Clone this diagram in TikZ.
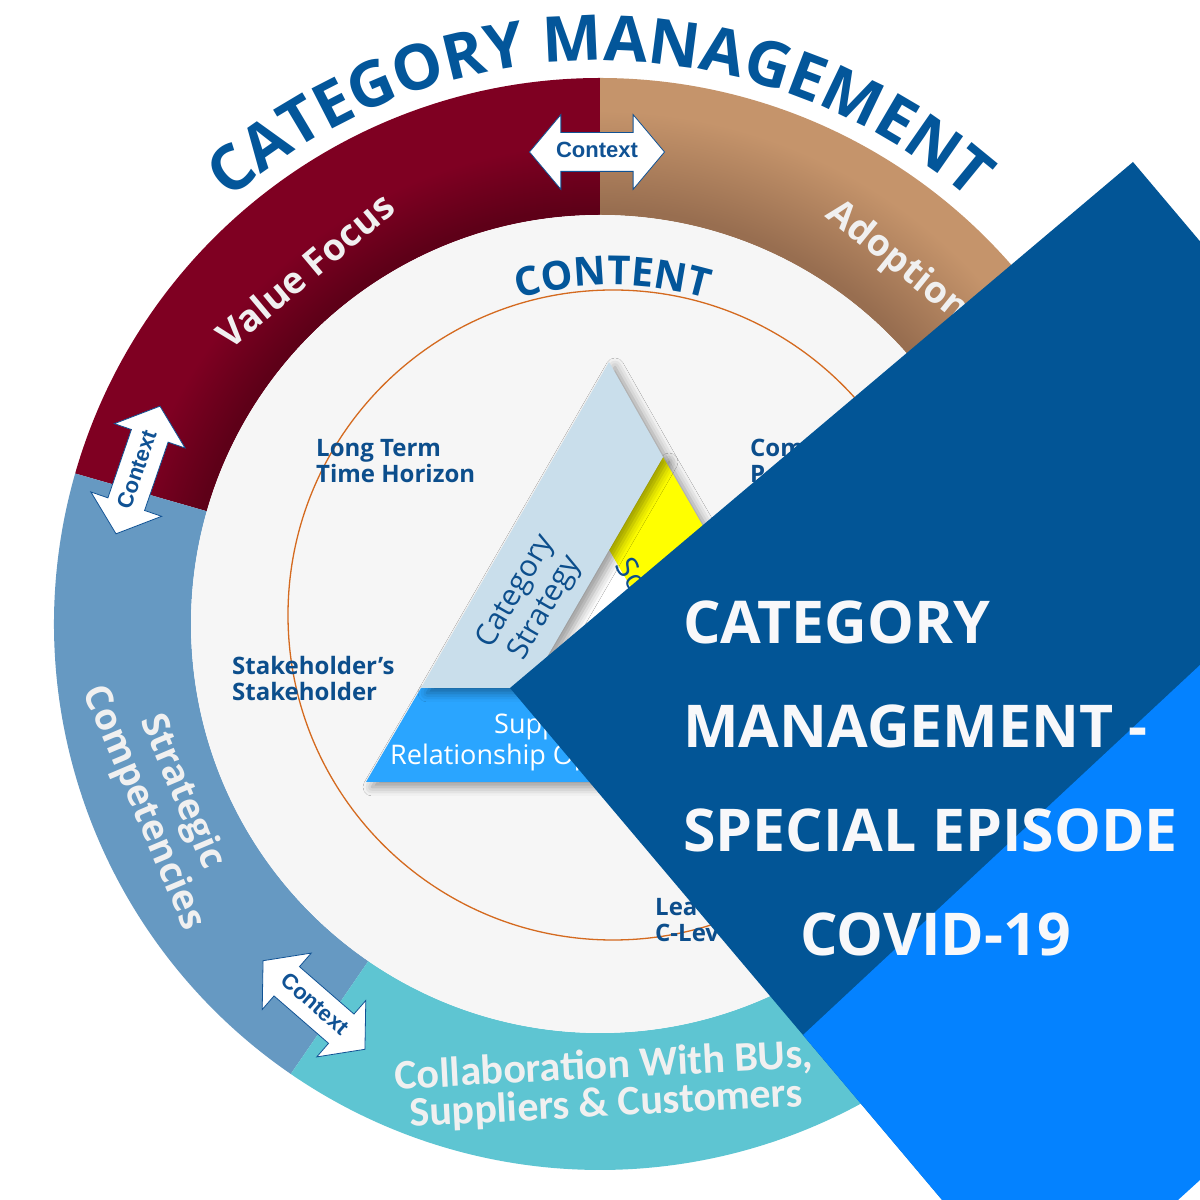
\documentclass[tikz,border=0pt]{standalone}
\usepackage{fontspec}
\setmainfont{Open Sans}
\newfontfamily\ctxfont{Liberation Sans}
\newfontfamily\calfont{Carlito}
\usetikzlibrary{shapes.arrows, decorations.text, shadows.blur}

\definecolor{cmblue}{RGB}{3,86,154}
\definecolor{txtblue}{RGB}{12,78,140}
\definecolor{ctxblue}{RGB}{16,82,148}
\definecolor{valred}{RGB}{127,0,34}
\definecolor{valreddark}{RGB}{94,0,24}
\definecolor{adopt}{RGB}{197,148,107}
\definecolor{adoptdark}{RGB}{152,110,80}
\definecolor{stratblue}{RGB}{102,153,194}
\definecolor{collteal}{RGB}{94,197,210}
\definecolor{contentbg}{RGB}{246,246,246}
\definecolor{orbit}{RGB}{212,106,31}
\definecolor{catstrip}{RGB}{201,222,235}
\definecolor{srmstrip}{RGB}{42,165,255}
\definecolor{srcstrip}{RGB}{255,255,0}
\definecolor{overdark}{RGB}{2,85,150}
\definecolor{overbright}{RGB}{4,130,255}
\definecolor{ringtext}{RGB}{240,240,240}
\definecolor{titlewhite}{RGB}{248,248,250}

\pgfdeclareradialshading{redring}{\pgfpoint{0bp}{0bp}}{color(0bp)=(valreddark); color(19bp)=(valreddark); color(22bp)=(valred); color(50bp)=(valred)}
\pgfdeclareradialshading{brownring}{\pgfpoint{0bp}{0bp}}{color(0bp)=(adoptdark); color(19bp)=(adoptdark); color(23.5bp)=(adopt); color(50bp)=(adopt)}

% ring piece between two angles
\newcommand{\ringpart}[2]{(#1:546) arc[start angle=#1, end angle=#2, radius=546pt] -- (#2:409) arc[start angle=#2, end angle=#1, radius=409pt] -- cycle}

\begin{document}
\begin{tikzpicture}[x=1pt, y=1pt,
    ringlabel/.style={text=ringtext, font=\bfseries\fontsize{37}{42}\selectfont, align=center},
    inlabel/.style={text=txtblue, font=\bfseries\fontsize{24}{26}\selectfont, align=left, inner sep=0pt, anchor=north west},
    ctx/.style={double arrow, draw=ctxblue, line width=0.8pt, fill=white, double arrow head extend=18pt,
        double arrow tip angle=100, minimum height=135pt, inner xsep=2pt, inner ysep=9pt,
        text height=16pt, text depth=4pt, text=ctxblue, font=\ctxfont\bfseries\fontsize{22}{22}\selectfont},
    strip/.style={blur shadow={shadow xshift=6pt, shadow yshift=-5pt, shadow blur radius=9pt, shadow opacity=40}}]
    \useasboundingbox (0,0) rectangle (1200,1200);
    \clip (0,0) rectangle (1200,1200);
    \fill[white] (0,0) rectangle (1200,1200);

    % outer ring
    \begin{scope}[shift={(600,576)}]
        \begin{scope}
            \clip \ringpart{90}{164};
            \shade[shading=redring] (0,0) circle (546pt);
        \end{scope}
        \begin{scope}
            \clip \ringpart{-20}{90};
            \shade[shading=brownring] (0,0) circle (546pt);
        \end{scope}
        \fill[stratblue] \ringpart{164}{235.5};
        \fill[collteal] \ringpart{235.5}{340};
        \fill[contentbg] (0,0) circle (409pt);
    \end{scope}
    \draw[orbit, line width=1.3pt] (613,585) circle (325pt);

    % arc titles
    \path[decorate, decoration={text along path, text align=center, text color=cmblue,
        text={|\bfseries\fontsize{40}{40}\selectfont|CONTENT}}]
        ([shift={(130:330)}]613,585) arc[start angle=130, end angle=50, radius=330pt];
    \path[decorate, decoration={text along path, text align=center, text color=cmblue,
        text={|\bfseries\fontsize{63}{63}\selectfont|CATEGORY MANAGEMENT}}]
        ([shift={(160:563)}]600,576) arc[start angle=160, end angle=20, radius=563pt];

    % triangle
    \coordinate (apex) at (609,838);
    \coordinate (p1) at (663,743);
    \coordinate (iapex) at (609,650);
    \coordinate (ibl) at (529,512);
    \coordinate (ibr) at (689,512);
    \coordinate (ll) at (421,512);
    \coordinate (bl) at (366,418);
    \coordinate (br) at (851,418);
    \coordinate (q) at (743,418);
    \fill[srcstrip, strip] (p1) -- (br) -- (q) -- (iapex) -- cycle;
    \fill[srmstrip, strip] (ll) -- (ibr) -- (q) -- (bl) -- cycle;
    \fill[white] (iapex) -- (ibl) -- (ibr) -- cycle;
    \fill[catstrip, strip] (apex) -- (p1) -- (ibl) -- (ll) -- cycle;

    \node[rotate=60, text=txtblue, font=\fontsize{30}{34}\selectfont, align=center] (catstrat) at (531,600) {Category\\Strategy};
    \node[rotate=-60, anchor=west, text=txtblue, font=\fontsize{30}{34}\selectfont, inner sep=0pt] (srctext) at (624,640) {Sou};
    \node[anchor=north west, text=white, font=\fontsize{27}{31}\selectfont, align=left, inner sep=0pt] (srmtext) at (390,486) {\hspace*{104pt}Supp\\Relationship Op};

    % content labels
    \node[inlabel] (horizon) at (316,761) {Long Term\\Time Horizon};
    \node[inlabel] (stake) at (232,544) {Stakeholder’s\\Stakeholder};
    \node[inlabel] (partner) at (750,761) {Com\\P};
    \node[inlabel] (lead) at (655,302) {Lea\\C-Lev};

    % ring labels
    \node[ringlabel, rotate=40] (value) at (305,930) {Value Focus};
    \node[ringlabel, rotate=-39] (adoption) at (897,938) {Adoption};
    \node[ringlabel, rotate=-67] (strat) at (162,400) {Strategic\\Competencies};
    \node[ringlabel, rotate=3, font=\calfont\bfseries\fontsize{42}{38}\selectfont] (collab) at (605,114) {Collaboration With BUs,\\Suppliers \& Customers};

    % context arrows
    \node[ctx] (ctxtop) at (597,1048) {Context};
    \node[ctx, rotate=71] (ctxleft) at (138,730) {Context};
    \node[ctx, rotate=-41] (ctxlow) at (314,195) {Context};

    % episode banner
    \fill[overdark] (510,512) -- (1133,1038) -- (1659,415) -- (1036,-111) -- cycle;
    \fill[overbright] (1200,535) -- (803,165) -- (942,0) -- (1178,0) -- (1200,20) -- cycle;
    \node[anchor=north west, text=titlewhite, font=\bfseries\fontsize{59}{104}\selectfont, align=left, inner sep=0pt] (title) at (683,599)
        {CATEGORY\\MANAGEMENT -\\SPECIAL EPISODE\\\hspace*{117pt}COVID-19};
\end{tikzpicture}
\end{document}
